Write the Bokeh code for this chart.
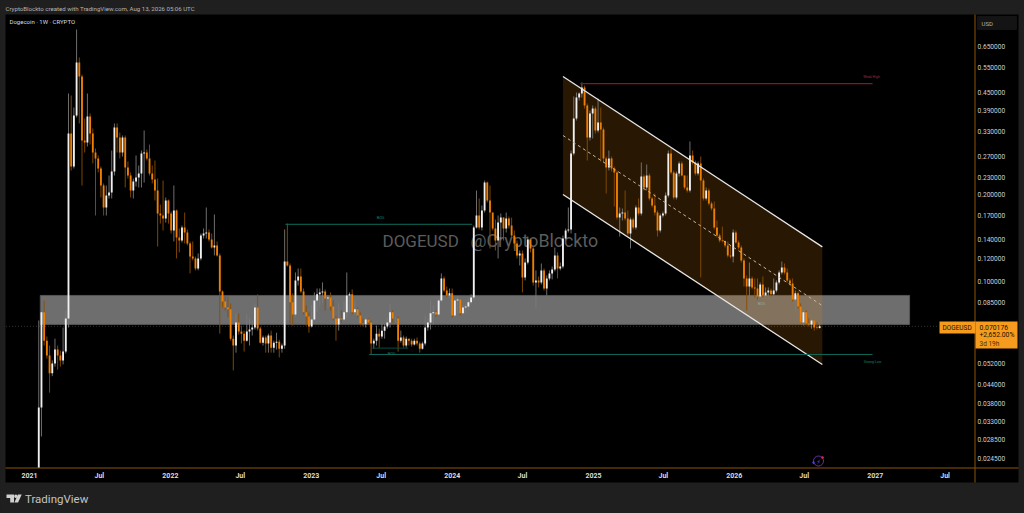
import math
import numpy as np
import pandas as pd
from bokeh.embed import file_html
from bokeh.resources import INLINE
from bokeh.plotting import figure
from bokeh.models import (Range1d, FixedTicker, NumeralTickFormatter, Label, BoxAnnotation,
                          PolyAnnotation, ColumnDataSource)

closes = [.0368,.0784,.0626,.0556,.0483,.0522,.0583,.0556,.0535,.0574,.0747,.3253,.2502,.3754,.5725,.5120,.3077,.3028,.3724,.3253,.2797,.2666,.2463,.2151,.1806,.1987,.2035,.2405,.3412,.3151,.2797,.3151,.2482,.2329,.2067,.2220,.2292,.2367,.2774,.2797,.2666,.2367,.2256,.2067,.1721,.1694,.1654,.1909,.1721,.1504,.1763,.1422,.1389,.1540,.1480,.1356,.1222,.1204,.1112,.1204,.1445,.1468,.1480,.1400,.1313,.1335,.1233,.0926,.0855,.0815,.0803,.0636,.0602,.0723,.0673,.0662,.0626,.0673,.0684,.0695,.0815,.0689,.0616,.0642,.0612,.0652,.0592,.0616,.0621,.0587,.0602,.1175,.1139,.0849,.0771,.1011,.1043,.0926,.0784,.0758,.0700,.0741,.0862,.0905,.0919,.0926,.0876,.0883,.0821,.0747,.0712,.0747,.0741,.0784,.0897,.0905,.0784,.0803,.0765,.0717,.0714,.0741,.0723,.0612,.0626,.0662,.0647,.0678,.0700,.0723,.0784,.0747,.0747,.0626,.0642,.0602,.0636,.0626,.0607,.0626,.0612,.0587,.0612,.0695,.0723,.0778,.0784,.0771,.0862,.1027,.0933,.0897,.0912,.0765,.0862,.0869,.0778,.0815,.0821,.0849,.0883,.1540,.1694,.1540,.1763,.2203,.1909,.1735,.1528,.1389,.1602,.1667,.1528,.1654,.1564,.1445,.1356,.1233,.1253,.1035,.1166,.1400,.1303,.0995,.1011,.0995,.1095,.0948,.1027,.1069,.1103,.1233,.1112,.1129,.1411,.1504,.1516,.2774,.3666,.4332,.4472,.4691,.4065,.3151,.3815,.3969,.3332,.3551,.3358,.2666,.2482,.2666,.2463,.2386,.1667,.1721,.1735,.1654,.1468,.1641,.1540,.1806,.1721,.2310,.2117,.2329,.1940,.1835,.1735,.1504,.1694,.1721,.1987,.2774,.2386,.1955,.2367,.2563,.2329,.2117,.2067,.2731,.2583,.2367,.2563,.2238,.1940,.2067,.1864,.1791,.1540,.1445,.1389,.1384,.1335,.1233,.1222,.1480,.1367,.1313,.1185,.1027,.0963,.1027,.0956,.0948,.0890,.0979,.0897,.0919,.0933,.0905,.0933,.0995,.1077,.1121,.1077,.1011,.0987,.0869,.0912,.0821,.0723,.0784,.0717,.0712,.0735,.0695,.0692,.0702]
highs = [.0735,.0784,.0862,.0647,.0602,.0535,.0636,.0602,.0578,.0695,.0796,.4472,.4402,.4001,.7441,.5956,.5200,.3666,.4472,.3815,.3385,.2887,.2731,.2502,.2186,.2151,.2329,.2841,.3523,.3523,.3279,.3202,.3202,.2604,.2386,.2274,.2731,.2522,.2841,.3332,.2864,.2980,.2522,.2624,.2274,.1849,.2238,.1955,.1924,.1749,.2151,.1777,.1528,.1564,.1735,.1516,.1378,.1378,.1222,.1253,.1468,.1528,.1806,.1516,.1468,.1708,.1378,.1253,.0933,.0890,.0890,.0842,.0652,.0778,.0778,.0706,.0678,.0771,.0747,.0735,.0842,.0905,.0700,.0652,.0652,.0662,.0678,.0626,.0667,.0631,.0612,.1516,.1589,.1157,.0912,.1077,.1112,.1112,.0948,.0829,.0784,.0829,.0919,.0948,.0948,.0995,.0941,.0897,.0919,.0862,.0758,.0842,.0796,.0855,.1077,.0919,.0941,.0862,.0815,.0784,.0747,.0753,.0747,.0735,.0636,.0706,.0689,.0723,.0717,.0753,.0836,.0796,.0758,.0758,.0678,.0652,.0647,.0636,.0636,.0636,.0642,.0621,.0621,.0765,.0747,.0862,.0829,.0796,.0876,.1069,.1043,.0963,.0948,.0948,.0876,.0890,.0862,.0829,.0836,.0876,.0905,.1564,.2067,.1940,.1835,.2238,.2220,.2151,.1680,.1641,.1694,.1721,.1602,.1735,.1680,.1667,.1504,.1389,.1283,.1283,.1204,.1433,.1411,.1324,.1095,.1043,.1157,.1112,.1052,.1095,.1129,.1313,.1263,.1166,.1445,.1528,.1806,.2841,.4367,.4508,.4508,.4881,.4766,.4131,.3907,.4065,.4033,.4298,.4001,.3412,.2709,.2841,.2709,.2502,.2424,.1806,.1791,.2067,.1763,.1667,.1667,.1835,.1940,.2583,.2348,.2542,.2367,.1970,.2019,.1763,.1721,.1749,.2035,.2841,.2910,.2424,.2405,.2604,.2604,.2329,.2329,.3052,.2841,.2624,.2604,.2709,.2274,.2117,.2100,.1894,.1894,.1628,.1468,.1552,.1389,.1378,.1335,.1516,.1504,.1389,.1335,.1204,.1052,.1166,.1043,.1027,.1027,.0995,.1043,.0956,.0956,.0948,.1027,.1011,.1095,.1175,.1157,.1112,.1027,.1027,.0933,.0926,.0842,.0796,.0796,.0747,.0747,.0735,.0723,.0729]
lows = [.0149,.0292,.0602,.0543,.0414,.0472,.0509,.0497,.0509,.0518,.0565,.0695,.2424,.2463,.3695,.3523,.2151,.2797,.2933,.2980,.2563,.1694,.2386,.1955,.1694,.1694,.1940,.1940,.2329,.2797,.2666,.2709,.2117,.2274,.1955,.1940,.2134,.2117,.2117,.2203,.2624,.2329,.2186,.1909,.1324,.1589,.1504,.1602,.1589,.1468,.1378,.1204,.1263,.1367,.1356,.1335,.1069,.1185,.1095,.1095,.1185,.1411,.1411,.1378,.1303,.1233,.1222,.0662,.0815,.0796,.0753,.0626,.0494,.0569,.0657,.0612,.0574,.0621,.0602,.0652,.0684,.0678,.0612,.0602,.0569,.0569,.0569,.0569,.0583,.0548,.0569,.0587,.1129,.0717,.0706,.0758,.0971,.0912,.0771,.0706,.0667,.0695,.0735,.0784,.0815,.0842,.0796,.0809,.0796,.0735,.0626,.0678,.0723,.0735,.0753,.0784,.0771,.0765,.0753,.0706,.0700,.0695,.0712,.0561,.0587,.0602,.0592,.0636,.0636,.0689,.0695,.0723,.0723,.0574,.0616,.0592,.0592,.0602,.0597,.0602,.0602,.0569,.0583,.0602,.0678,.0684,.0712,.0758,.0765,.0849,.0919,.0883,.0883,.0753,.0753,.0778,.0765,.0771,.0778,.0796,.0836,.0862,.1528,.1516,.1504,.1735,.1879,.1303,.1504,.1283,.1204,.1389,.1389,.1480,.1528,.1411,.1303,.1204,.1139,.0919,.1011,.1148,.1263,.0971,.0809,.0956,.0979,.0933,.0897,.1011,.1019,.1086,.1027,.1095,.1112,.1389,.1480,.1468,.2731,.3608,.4230,.4332,.3969,.2624,.3077,.3126,.3253,.3279,.2604,.2583,.2019,.2424,.2405,.1820,.1641,.1433,.1628,.1628,.1445,.1303,.1516,.1516,.1694,.1694,.2067,.2067,.1909,.1806,.1694,.1433,.1480,.1667,.1694,.1955,.2348,.1924,.1924,.2310,.2310,.2084,.2035,.2035,.2542,.2329,.2329,.1035,.1909,.1909,.1835,.1763,.1516,.1422,.1367,.1367,.1313,.1213,.1204,.1166,.1356,.1293,.1166,.0963,.0796,.0883,.0941,.0883,.0869,.0876,.0883,.0890,.0890,.0890,.0897,.0919,.0979,.1060,.1060,.0995,.0971,.0855,.0784,.0809,.0753,.0706,.0706,.0700,.0689,.0678,.0684,.0689]
first_open = .0149
first_week = "2021-01-25"

x_tick_dates = ["2021-01-01","2021-07-01","2022-01-01","2022-07-01","2023-01-01","2023-07-01","2024-01-01",
                "2024-07-01","2025-01-01","2025-07-01","2026-01-01","2026-07-01","2027-01-01","2027-07-01"]
x_tick_labels = ["2021","Jul","2022","Jul","2023","Jul","2024","Jul","2025","Jul","2026","Jul","2027","Jul"]
y_ticks = [.65,.55,.45,.39,.33,.27,.23,.20,.17,.14,.12,.10,.085,.052,.044,.038,.033,.0285,.0245]

zone_top, zone_bottom = .0897, .0712
zone_dates = ["2021-01-29","2027-03-31"]
channel_dates = ["2024-10-14","2026-08-17"]
channel_upper = [.512,.132]
channel_lower = [.2002,.0518]
channel_mid = [.3202,.0827]
bos_dates = ["2022-10-26","2024-02-22"]; bos_price = .158
bos2_dates = ["2023-06-08","2023-09-09"]; bos2_price = .059
low_dates = ["2023-05-31","2026-12-25"]; low_price = .0561
high_dates = ["2024-11-28","2026-12-25"]; high_price = .4841
last_dates = ["2020-11-01","2027-06-15"]; last_price = .070176

MS = 86400000.0
T0 = pd.Timestamp("2021-01-01").value / 1e6
def ms(d): return pd.Timestamp(d).value / 1e6
def X(px): return T0 + (px - 29) / 0.386 * MS
def Y(py): return 0.65 * math.exp(-(py - 46) / 125.7)

BG = "#1f1f1f"
ORANGE = "#ee7e04"
AXC = "#8a5506"
ABS = {"position": "absolute", "left": "0px", "top": "0px"}

# ---- page furniture, drawn behind the chart in page pixels
g = figure(width=1024, height=513, output_backend="svg", toolbar_location=None,
           x_range=Range1d(0, 1024), y_range=Range1d(513, 0), min_border=0,
           background_fill_color=BG, border_fill_color=BG, outline_line_color=None, styles=ABS)
g.axis.visible = False
g.grid.visible = False

def box(l, r, t, b, color, line=None):
    g.add_layout(BoxAnnotation(left=l, right=r, top=t, bottom=b, fill_color=color, fill_alpha=1,
                               line_color=line, editable=False))
def lab(px, py, text, size, color, font="Roboto", align="left", style="normal"):
    g.add_layout(Label(x=px, y=py, text=text, text_font=font, text_font_size=size, text_color=color,
                       text_align=align, text_baseline="middle", text_font_style=style))
box(5, 1018, 14, 482, "#000000")
lab(382, 240, "DOGEUSD", "17px", "#5c5c5c")
lab(470, 240, "@CryptoBlockto", "17.8px", "#5c5c5c")
box(974, 975, 14, 482, AXC)
box(5, 1018, 467, 468, AXC)
box(977, 1016, 16, 29, "#141414", line="#2a2a2a")
lab(981, 22.5, "USD", "6px", "#b0b0b0")
TAG = "#f59c1e"
box(939, 975, 321, 333, TAG)
box(975, 1017, 321, 348, TAG)
lab(942, 327, "DOGEUSD", "6.5px", "#1a1000")
lab(979, 327, "0.070176", "6.8px", "#1a1000")
lab(979, 334.5, "+2,652.00%", "6.8px", "#1a1000")
lab(979, 343, "3d 19h", "6.5px", "#4a3000")
lab(5, 7.5, "CryptoBlockto created with TradingView.com, Aug 13, 2026 05:06 UTC", "6.1px", "#b4b4b4")
lab(9, 20.5, "Dogecoin · 1W · CRYPTO", "6px", "#dcdcdc")
lab(24.5, 498, "TradingView", "11.5px", "#c4c4c4")
lab(380, 217, "BOS", "4px", "#12806e", align="center")
lab(391, 353, "BOS", "4px", "#12806e", align="center")
lab(761, 303, "BOS", "4px", "#12806e", align="center")
lab(871, 76.5, "Weak High", "3.5px", "#a02a3a", align="center")
lab(872, 361, "Strong Low", "3.5px", "#12806e", align="center")
def poly(pts, color="#d0d0d0"):
    g.add_layout(PolyAnnotation(xs=[a for a, b in pts], ys=[b for a, b in pts], fill_color=color, fill_alpha=1,
                                line_color=None, editable=False))
poly([(6, 494), (13.5, 494), (13.5, 502), (9.7, 502), (9.7, 497.4), (6, 497.4)])
poly([(17.4, 494), (21.2, 494), (17.6, 502), (13.9, 502)])
g.scatter([15.3], [495.8], marker="circle", size=3.4, fill_color="#d0d0d0", line_color=None)

# ---- the chart itself, transparent, on top
p = figure(width=1024, height=513, output_backend="svg", toolbar_location=None, y_axis_type="log",
           x_range=Range1d(X(5), X(975)), y_range=Range1d(Y(467), Y(14)), y_axis_location="right",
           min_border_left=5, min_border_right=49, min_border_top=14, min_border_bottom=46,
           background_fill_alpha=0, border_fill_alpha=0, outline_line_color=None, styles=ABS)
p.grid.visible = False

xa = p.xaxis[0]
xa.ticker = FixedTicker(ticks=[ms(d) for d in x_tick_dates])
xa.major_label_overrides = {ms(d): t for d, t in zip(x_tick_dates, x_tick_labels)}
xa.axis_line_color = None; xa.major_tick_line_color = None; xa.minor_tick_line_color = None
xa.major_tick_out = 0; xa.major_tick_in = 0
xa.major_label_text_color = "#dcdcdc"; xa.major_label_text_font = "Roboto"
xa.major_label_text_font_size = "7px"; xa.major_label_text_font_style = "bold"
xa.major_label_standoff = 4

ya = p.yaxis[0]
ya.ticker = FixedTicker(ticks=y_ticks)
ya.formatter = NumeralTickFormatter(format="0.000000")
ya.axis_line_color = None; ya.major_tick_line_color = None; ya.minor_tick_line_color = None
ya.major_tick_out = 0; ya.major_tick_in = 0
ya.major_label_text_color = "#d0d0d0"; ya.major_label_text_font = "Roboto"
ya.major_label_text_font_size = "6.6px"; ya.major_label_standoff = 2

p.line([ms(d) for d in last_dates], [last_price] * 2, line_color="#333333", line_width=1, line_dash="1 2")

# demand zone and channel fill under the candles
p.quad(left=[ms(zone_dates[0])], right=[ms(zone_dates[1])], top=[zone_top], bottom=[zone_bottom],
       fill_color="#ffffff", fill_alpha=0.43, line_color="#555555", line_width=1)
cx = [ms(d) for d in channel_dates]
p.patch([cx[0], cx[1], cx[1], cx[0]], [channel_upper[0], channel_upper[1], channel_lower[1], channel_lower[0]],
        fill_color="#f08a0c", fill_alpha=0.17, line_color=None)

n = len(closes)
xs = [ms(first_week) + 7 * MS * i for i in range(n)]
opens = [first_open] + closes[:-1]
hi = [max(h, o, c) for h, o, c in zip(highs, opens, closes)]
lo = [min(l, o, c) for l, o, c in zip(lows, opens, closes)]
up = [c >= o for o, c in zip(opens, closes)]
src = ColumnDataSource(dict(x=xs, o=opens, c=closes, h=hi, l=lo,
                            wick=["#7a7a7a" if u else "#8a4e05" for u in up],
                            body=["#f0f0f0" if u else ORANGE for u in up]))
p.segment("x", "h", "x", "l", source=src, line_color="wick", line_width=0.9)
p.vbar(x="x", top="o", bottom="c", width=4.8 * MS, source=src, fill_color="body", line_color=None)

p.line(cx, channel_upper, line_color="#e8e8e8", line_width=1.3)
p.line(cx, channel_lower, line_color="#e8e8e8", line_width=1.3)
p.line(cx, channel_mid, line_color="#c4b8a4", line_width=1, line_dash="3 3")

TEAL = "#0e6b5c"
p.line([ms(d) for d in bos_dates], [bos_price] * 2, line_color=TEAL, line_width=1)
p.line([ms(d) for d in bos2_dates], [bos2_price] * 2, line_color="#0b4a40", line_width=1)
p.line([ms(d) for d in low_dates], [low_price] * 2, line_color=TEAL, line_width=1)
p.line([ms(d) for d in high_dates], [high_price] * 2, line_color="#8c1226", line_width=1.2)

# news icon by the last bar
p.scatter([X(818)], [Y(460.5)], marker="circle", size=10, fill_color=None, line_color="#6a2da0", line_width=1)
p.scatter([X(822)], [Y(457)], marker="circle", size=2.5, fill_color="#d8304a", line_color=None)
p.scatter([X(813)], [Y(462)], marker="diamond", size=4, fill_color="#4a40e0", line_color=None)
p.add_layout(Label(x=X(818), y=Y(460.5), text="⚡", text_font="DejaVu Sans", text_font_size="6px", text_color="#8a3fc8",
                   text_align="center", text_baseline="middle"))

html = file_html([g, p], INLINE)
html = html.replace("</head>", "<style>html,body{margin:0;padding:0;overflow:hidden;background:%s}</style></head>" % BG, 1)
open("out.html", "w").write(html)
